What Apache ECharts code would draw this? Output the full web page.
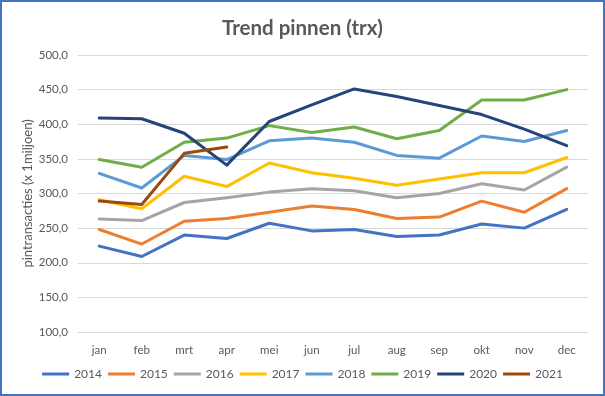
<!DOCTYPE html>
<html>
<head>
<meta charset="utf-8">
<script src="https://cdn.jsdelivr.net/npm/echarts@6/dist/echarts.min.js"></script>
<style>
    html, body { margin: 0; padding: 0; background: #fff; }
    #chart { width: 605px; height: 396px; box-sizing: border-box; border: 2px solid #4472C4; }
</style>
</head>
<body>
<div id="chart"></div>
<script>
// data
var months = ['jan', 'feb', 'mrt', 'apr', 'mei', 'jun', 'jul', 'aug', 'sep', 'okt', 'nov', 'dec'];
var years = ['2014', '2015', '2016', '2017', '2018', '2019', '2020', '2021'];

var y2014 = [224, 209, 240, 235, 257, 246, 248, 238, 240, 256, 250, 277];
var y2015 = [248, 227, 260, 264, 273, 282, 277, 264, 266, 289, 273, 307];
var y2016 = [263, 261, 287, 294, 302, 307, 304, 294, 300, 314, 305, 338];
var y2017 = [291, 278, 325, 310, 344, 330, 322, 312, 321, 330, 330, 352];
var y2018 = [329, 308, 355, 349, 376, 380, 374, 355, 351, 383, 375, 391];
var y2019 = [349, 338, 374, 380, 398, 388, 396, 379, 391, 435, 435, 450];
var y2020 = [409, 408, 387, 341, 404, 428, 451, 440, 427, 414, 393, 369];
var y2021 = [289, 284, 358, 367];

var colors = ['#4472C4', '#ED7D31', '#A5A5A5', '#FFC000', '#5B9BD5', '#70AD47', '#264478', '#9E480E'];

var allData = [y2014, y2015, y2016, y2017, y2018, y2019, y2020, y2021];

var chart = echarts.init(document.getElementById('chart'));

var series = [];
for (var i = 0; i < years.length; i++) {
    series.push({
        name: years[i],
        type: 'line',
        data: allData[i],
        symbol: 'none',
        smooth: false,
        lineStyle: {width: 3, color: colors[i], cap: 'round', join: 'round'},
        itemStyle: {color: colors[i]}
    });
}

var font = 'Lato, "Noto Sans", sans-serif';

var option = {
    animation: false,
    title: {
        text: 'Trend pinnen (trx)',
        left: 'center',
        top: 11,
        textStyle: {fontFamily: font, fontSize: 20.5, fontWeight: 'bold', color: '#595959'}
    },
    legend: {
        bottom: 9,
        left: 'center',
        itemWidth: 27,
        itemHeight: 3,
        itemGap: 6,
        icon: 'rect',
        textStyle: {fontFamily: font, fontSize: 12, color: '#595959'},
        data: years
    },
    grid: {left: 76, right: 15, top: 53, bottom: 62},
    xAxis: {
        type: 'category',
        data: months,
        boundaryGap: true,
        axisLine: {show: true, lineStyle: {color: '#d9d9d9'}},
        axisTick: {show: false},
        axisLabel: {fontFamily: font, fontSize: 11.5, color: '#595959', margin: 12}
    },
    yAxis: {
        type: 'value',
        min: 100,
        max: 500,
        interval: 50,
        name: 'pintransacties (x 1miljoen)',
        nameLocation: 'middle',
        nameGap: 44,
        nameMoveOverlap: false,
        nameTextStyle: {fontFamily: font, fontSize: 13, color: '#595959'},
        axisLine: {show: false},
        axisTick: {show: false},
        splitLine: {lineStyle: {color: '#d9d9d9', width: 1}},
        axisLabel: {
            fontFamily: font, fontSize: 11.5, color: '#595959', margin: 10,
            formatter: function (v) { return v.toFixed(1).replace('.', ','); }
        }
    },
    series: series
};
chart.setOption(option);
</script>
</body>
</html>
